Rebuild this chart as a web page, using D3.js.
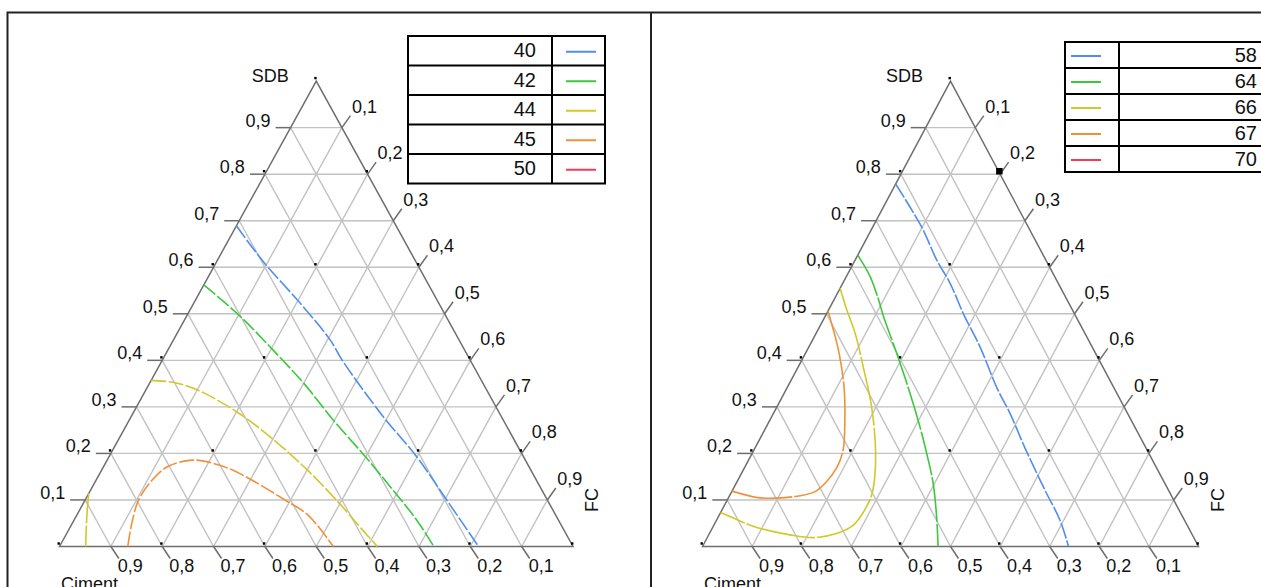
<!DOCTYPE html>
<html>
<head>
<meta charset="utf-8">
<script src="https://cdn.jsdelivr.net/npm/d3@7"></script>
<style>
  body { margin: 0; background: #fff; }
  svg text { font-family: "Liberation Sans", Arial, sans-serif; fill: #111; }
</style>
</head>
<body>
<svg id="chart"></svg>
<script>
// TICKS
const tickValues = [0.1, 0.2, 0.3, 0.4, 0.5, 0.6, 0.7, 0.8, 0.9]
const tickLabels = ['0,1', '0,2', '0,3', '0,4', '0,5', '0,6', '0,7', '0,8', '0,9']
const latticeSteps = [0, 0.2, 0.4, 0.6, 0.8, 1]

// LEGENDS
const leftLevels = ['40', '42', '44', '45', '50']
const rightLevels = ['58', '64', '66', '67', '70']
const levelColors = ['#4f8ef0', '#3cc83c', '#d2c828', '#f0913a', '#f03c5a']

// CONTOURS, points as [SDB, FC] (Ciment = 1 - SDB - FC)
const left40 = [[0.689, 0], [0.612, 0.091], [0.523, 0.207], [0.444, 0.305], [0.397, 0.354], [0.279, 0.491], [0.193, 0.599], [0.100, 0.704], [0, 0.816]]
const left42 = [[0.562, 0], [0.495, 0.104], [0.422, 0.205], [0.351, 0.300], [0.272, 0.397], [0.190, 0.503], [0.121, 0.589], [0.057, 0.667], [0, 0.729]]
const left44a = [[0.357, 0], [0.352, 0.049], [0.335, 0.104], [0.288, 0.203], [0.234, 0.295], [0.164, 0.401], [0.097, 0.493], [0.032, 0.577], [0, 0.619]]
const left44b = [[0.114, 0], [0.078, 0.015], [0.036, 0.034], [0, 0.051]]
const left45 = [[0, 0.133], [0.043, 0.118], [0.100, 0.104], [0.143, 0.109], [0.172, 0.125], [0.185, 0.160], [0.184, 0.186], [0.168, 0.245], [0.139, 0.311], [0.100, 0.389], [0.067, 0.451], [0, 0.533]]

const right58 = [[0.779, 0], [0.730, 0.053], [0.680, 0.105], [0.616, 0.164], [0.566, 0.216], [0.500, 0.276], [0.429, 0.345], [0.341, 0.423], [0.286, 0.477], [0.212, 0.544], [0.121, 0.630], [0.057, 0.692], [0, 0.738]]
const right64 = [[0.626, 0], [0.580, 0.048], [0.530, 0.090], [0.494, 0.118], [0.415, 0.184], [0.329, 0.254], [0.257, 0.310], [0.200, 0.352], [0.136, 0.397], [0.064, 0.440], [0, 0.475]]
const right66 = [[0.555, 0], [0.508, 0.037], [0.459, 0.078], [0.386, 0.131], [0.300, 0.191], [0.200, 0.249], [0.121, 0.283], [0.086, 0.288], [0.046, 0.281], [0.028, 0.256], [0.019, 0.214], [0.025, 0.164], [0.041, 0.089], [0.061, 0.032], [0.073, 0]]
const right67 = [[0.506, 0], [0.451, 0.042], [0.415, 0.068], [0.341, 0.115], [0.272, 0.151], [0.207, 0.180], [0.170, 0.186], [0.138, 0.180], [0.118, 0.168], [0.109, 0.142], [0.104, 0.098], [0.105, 0.059], [0.119, 0]]

// highlighted design point in right plot [SDB, FC]
const rightHighlight = [0.8, 0.2]

const totalWidth = 1261, totalHeight = 587
const svg = d3.select('#chart').attr('width', totalWidth).attr('height', totalHeight)

// PANEL FRAMES
svg.append('path')
  .attr('d', 'M7.5,600 V12.5 H1270 M651,12.5 V600')
  .attr('fill', 'none').attr('stroke', '#222').attr('stroke-width', 2)

const panels = [
  {
    x0: 59.5, x1: 573,
    curves: [
      { data: left40, color: levelColors[0], dash: '15,2.5' },
      { data: left42, color: levelColors[1], dash: '15,2.5' },
      { data: left44a, color: levelColors[2], dash: '15,2.5' },
      { data: left44b, color: levelColors[2], dash: '30,2' },
      { data: left45, color: levelColors[3], dash: '15,2.5' }
    ],
    legend: { levels: leftLevels, x: 408, y: 36, w: 197, rowH: 29.5, split: 552, swatchLeft: false, textX: 536 }
  },
  {
    x0: 702.5, x1: 1198.5,
    curves: [
      { data: right58, color: levelColors[0], dash: '16,2' },
      { data: right64, color: levelColors[1], dash: '45,2' },
      { data: right66, color: levelColors[2], dash: '70,2' },
      { data: right67, color: levelColors[3], dash: '70,2' }
    ],
    highlight: rightHighlight,
    legend: { levels: rightLevels, x: 1065, y: 42, w: 210, rowH: 26, split: 1119, swatchLeft: true, textX: 1257 }
  }
]

const baseY = 546.5, topY = 81.1

panels.forEach(p => {
  const x = d3.scaleLinear().domain([0, 1]).range([p.x0, p.x1])
  const y = d3.scaleLinear().domain([0, 1]).range([baseY, topY])
  // ternary projection: s = SDB, f = FC
  const px = (s, f) => x(f + s / 2)
  const py = (s) => y(s)

  const g = svg.append('g')

  // GRID
  const grid = g.append('g').attr('stroke', '#c2c2c2').attr('stroke-width', 1.4)
  tickValues.forEach(t => {
    const segs = [
      [[t, 0], [t, 1 - t]],          // constant SDB
      [[1 - t, 0], [0, 1 - t]],      // constant Ciment
      [[0, t], [1 - t, t]]           // constant FC
    ]
    segs.forEach(([a, b]) => {
      grid.append('line')
        .attr('x1', px(a[0], a[1])).attr('y1', py(a[0]))
        .attr('x2', px(b[0], b[1])).attr('y2', py(b[0]))
    })
  })

  // EDGES
  g.append('path')
    .attr('d', `M${px(0, 0)},${py(0)} L${px(1, 0)},${py(1)} L${px(0, 1)},${py(0)} Z`)
    .attr('fill', 'none').attr('stroke', '#6e6e6e').attr('stroke-width', 1.5)

  // AXIS TICKS AND LABELS
  const ticks = g.append('g').attr('stroke', '#6e6e6e').attr('stroke-width', 1.5)
  tickValues.forEach((t, i) => {
    // left axis: SDB
    let sx = px(t, 0), sy = py(t)
    ticks.append('line').attr('x1', sx).attr('y1', sy).attr('x2', sx - 15).attr('y2', sy)
    g.append('text').attr('x', sx - 20).attr('y', sy - 1)
      .attr('text-anchor', 'end').attr('font-size', 18).text(tickLabels[i])

    // bottom axis: Ciment
    sx = px(0, 1 - t); sy = py(0)
    ticks.append('line').attr('x1', sx).attr('y1', sy).attr('x2', sx + 8).attr('y2', sy + 12)
    g.append('text').attr('x', sx + 7).attr('y', sy + 25.5)
      .attr('font-size', 18).text(tickLabels[i])

    // right axis: FC
    sx = px(1 - t, t); sy = py(1 - t)
    ticks.append('line').attr('x1', sx).attr('y1', sy).attr('x2', sx + 8.5).attr('y2', sy - 12)
    g.append('text').attr('x', sx + 10).attr('y', sy - 15)
      .attr('font-size', 18).text(tickLabels[i])
  })

  // VERTEX LABELS
  g.append('text').attr('x', px(1, 0) - 27.5).attr('y', py(1) + 0.5)
    .attr('text-anchor', 'end').attr('font-size', 18).text('SDB')
  g.append('text').attr('x', px(0, 0) + 1.5).attr('y', py(0) + 43)
    .attr('font-size', 18).text('Ciment')
  g.append('text')
    .attr('transform', `translate(${px(0, 1) + 19}, 500) rotate(-90)`)
    .attr('text-anchor', 'middle').attr('dominant-baseline', 'central')
    .attr('font-size', 18).text('FC')

  // DESIGN POINTS
  const pts = []
  latticeSteps.forEach(s => latticeSteps.forEach(f => {
    if (s + f <= 1.0001) pts.push([s, f])
  }))
  g.append('g').selectAll('rect')
    .data(pts)
    .enter()
    .append('rect')
      .attr('x', d => px(d[0], d[1]) - 2)
      .attr('y', d => py(d[0]) - 4.2)
      .attr('width', 2.4).attr('height', 2.4)
      .attr('fill', '#000')

  if (p.highlight) {
    const [hs, hf] = p.highlight
    g.append('rect')
      .attr('x', px(hs, hf) - 4).attr('y', py(hs) - 6.2)
      .attr('width', 6.5).attr('height', 6.5).attr('fill', '#000')
  }

  // CONTOUR LINES
  const line = d3.line()
    .x(d => px(d[0], d[1]))
    .y(d => py(d[0]))
    .curve(d3.curveCatmullRom.alpha(0.5))

  p.curves.forEach(c => {
    g.append('path')
      .datum(c.data)
      .attr('d', line)
      .attr('fill', 'none')
      .attr('stroke', c.color)
      .attr('stroke-width', 1.6)
      .style('stroke-dasharray', c.dash)
  })

  // LEGEND TABLE
  const L = p.legend
  const leg = g.append('g')
  L.levels.forEach((lv, i) => {
    const ry = L.y + i * L.rowH
    leg.append('text')
      .attr('x', L.textX).attr('y', ry + L.rowH / 2 + 6.5)
      .attr('text-anchor', 'end').attr('font-size', 20).text(lv)
    const sx0 = L.swatchLeft ? L.x + 6 : L.split + 14
    leg.append('line')
      .attr('x1', sx0).attr('x2', sx0 + 30)
      .attr('y1', ry + L.rowH / 2 + 1).attr('y2', ry + L.rowH / 2 + 1)
      .attr('stroke', levelColors[i]).attr('stroke-width', 2)
  })
  const legLines = leg.append('g').attr('stroke', '#000').attr('stroke-width', 2).attr('fill', 'none')
  legLines.append('rect').attr('x', L.x).attr('y', L.y).attr('width', L.w).attr('height', L.rowH * L.levels.length)
  legLines.append('line').attr('x1', L.split).attr('x2', L.split).attr('y1', L.y).attr('y2', L.y + L.rowH * L.levels.length)
  for (let i = 1; i < L.levels.length; i++) {
    legLines.append('line').attr('x1', L.x).attr('x2', L.x + L.w)
      .attr('y1', L.y + i * L.rowH).attr('y2', L.y + i * L.rowH)
  }
})
</script>
</body>
</html>
